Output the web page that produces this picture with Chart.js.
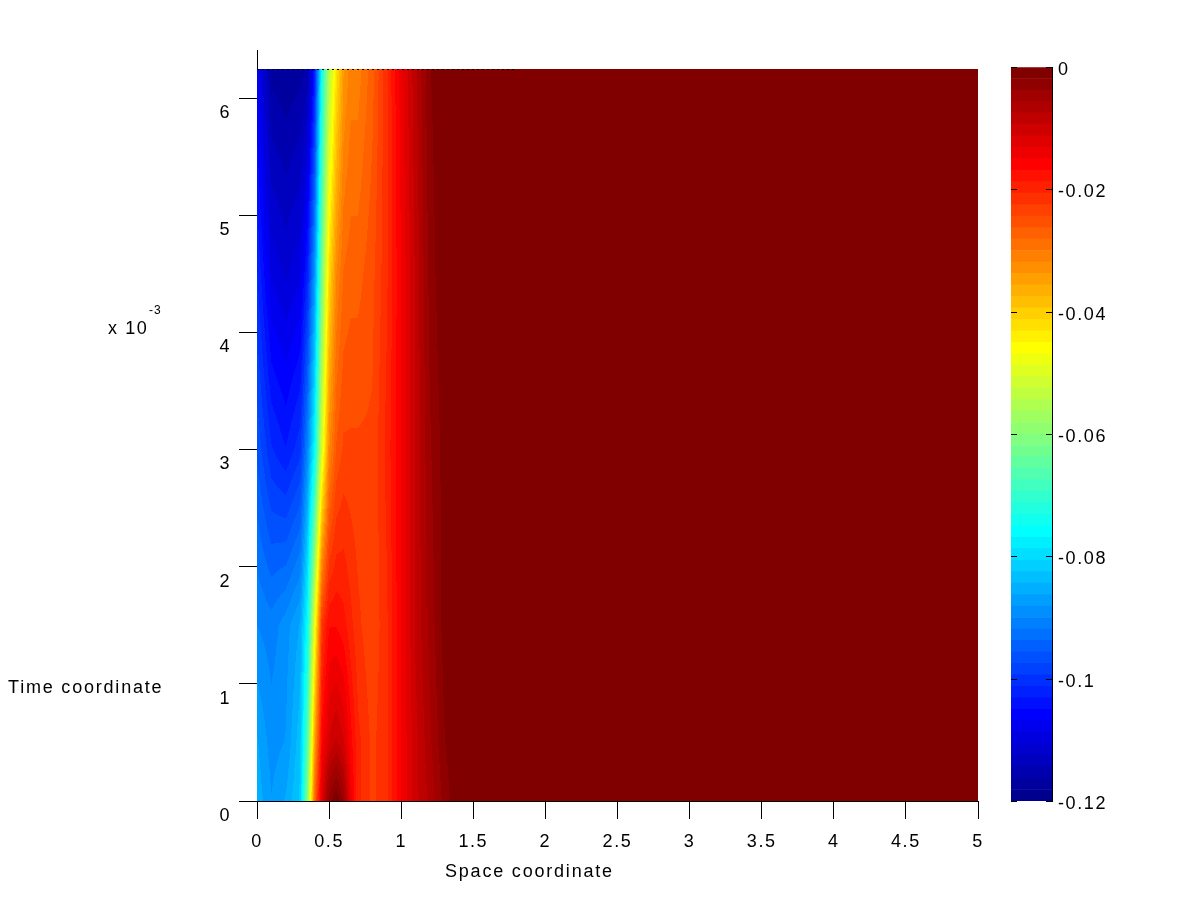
<!DOCTYPE html>
<html>
<head>
<meta charset="utf-8">
<script src="https://cdn.jsdelivr.net/npm/chart.js@4.4.1/dist/chart.umd.min.js"></script>
<style>
    html, body { margin: 0; padding: 0; background: #fff; }
    #contenedor { position: relative; width: 1200px; height: 901px; }
    #contenedor canvas { position: absolute; left: 0; top: 0; }
</style>
</head>
<body>
<div id="contenedor">
    <canvas id="mapa" width="1200" height="901"></canvas>
    <canvas id="barra" width="1200" height="901"></canvas>
</div>
<script>
// coordenadas de la malla (espacio y tiempo)
const espacio = [0, 0.1, 0.2, 0.3, 0.35, 0.4, 0.45, 0.5, 0.55, 0.6, 0.65, 0.7, 0.8, 0.9, 1.0, 1.1, 1.2, 1.3, 1.4, 5];
const tiempo = [0, 0.0005, 0.0015, 0.003, 0.0045, 0.00625];

// valores leidos por fila de tiempo
const filaT0    = [-0.085, -0.088, -0.086, -0.082, -0.060, -0.028, -0.012, -0.003, 0, -0.004, -0.014, -0.020, -0.023, -0.021, -0.015, -0.010, -0.007, -0.003, 0, 0];
const filaT05   = [-0.086, -0.089, -0.088, -0.083, -0.066, -0.035, -0.016, -0.011, -0.009, -0.011, -0.016, -0.020, -0.023, -0.021, -0.015, -0.010, -0.006, -0.002, 0, 0];
const filaT15   = [-0.090, -0.091, -0.089, -0.086, -0.075, -0.048, -0.022, -0.017, -0.017, -0.018, -0.020, -0.022, -0.024, -0.021, -0.015, -0.009, -0.005, -0.001, 0, 0];
const filaT3    = [-0.096, -0.101, -0.103, -0.100, -0.090, -0.076, -0.050, -0.032, -0.026, -0.024, -0.024, -0.024, -0.024, -0.020, -0.015, -0.009, -0.004, -0.001, 0, 0];
const filaT45   = [-0.101, -0.109, -0.111, -0.109, -0.102, -0.088, -0.062, -0.042, -0.032, -0.028, -0.027, -0.027, -0.025, -0.021, -0.015, -0.009, -0.003, 0, 0, 0];
const filaT625  = [-0.107, -0.117, -0.118, -0.117, -0.116, -0.103, -0.074, -0.055, -0.043, -0.034, -0.031, -0.031, -0.027, -0.021, -0.014, -0.008, -0.002, 0, 0, 0];
const filas = [filaT0, filaT05, filaT15, filaT3, filaT45, filaT625];

const xTicks = [0, 0.5, 1, 1.5, 2, 2.5, 3, 3.5, 4, 4.5, 5];
const yTicks = [0, 0.001, 0.002, 0.003, 0.004, 0.005, 0.006];
const cbTicks = [-0.12, -0.1, -0.08, -0.06, -0.04, -0.02, 0];
const cbEtiquetas = ['-0.12', '-0.1', '-0.08', '-0.06', '-0.04', '-0.02', '0'];
const cbMin = -0.12, cbMax = 0, niveles = 64;

const familia = '"Liberation Sans", Arial, sans-serif';
const fuente = { family: familia, size: 18 };
const espaciado = '1.6px';

function jet(k) {
    const u = j => j < 16 ? (j + 1) / 16 : (j <= 30 ? 1 : (47 - j) / 16);
    const n = k + 1;
    const r = n >= 25 ? u(n - 25) : 0;
    const g = (n >= 9 && n <= 55) ? u(n - 9) : 0;
    const b = n <= 39 ? u(n + 7) : 0;
    return [r, g, b].map(c => Math.round(c * 255));
}

function nivel(v) {
    let k = Math.floor((v - cbMin) / (cbMax - cbMin) * niveles);
    return Math.max(0, Math.min(niveles - 1, k));
}

function buscar(arr, v) {
    if (v <= arr[0]) return [0, 0];
    for (let i = 0; i < arr.length - 1; i++) {
        if (v <= arr[i + 1]) return [i, (v - arr[i]) / (arr[i + 1] - arr[i])];
    }
    return [arr.length - 2, 1];
}

const letras = {
    id: 'letras',
    beforeUpdate(chart) { chart.ctx.letterSpacing = espaciado; },
    beforeDraw(chart) { chart.ctx.letterSpacing = espaciado; }
};

const campo = {
    id: 'campo',
    beforeDatasetsDraw(chart) {
        const { ctx, scales: { x, y } } = chart;
        const r = chart.currentDevicePixelRatio || 1;
        const x0 = Math.round(x.getPixelForValue(espacio[0]));
        const x1 = Math.round(x.getPixelForValue(espacio[espacio.length - 1]));
        const y0 = Math.round(y.getPixelForValue(tiempo[tiempo.length - 1]));
        const y1 = Math.round(y.getPixelForValue(tiempo[0]));
        const w = Math.round((x1 - x0) * r), h = Math.round((y1 - y0) * r);
        const img = ctx.createImageData(w, h);
        const cols = [];
        for (let i = 0; i < w; i++) cols.push(buscar(espacio, x.getValueForPixel(x0 + (i + 0.5) / r)));
        for (let j = 0; j < h; j++) {
            const [ti, tf] = buscar(tiempo, y.getValueForPixel(y0 + (j + 0.5) / r));
            const fa = filas[ti], fb = filas[ti + 1];
            for (let i = 0; i < w; i++) {
                const [si, sf] = cols[i];
                const va = fa[si] * (1 - sf) + fa[si + 1] * sf;
                const vb = fb[si] * (1 - sf) + fb[si + 1] * sf;
                const c = jet(nivel(va * (1 - tf) + vb * tf));
                const p = (j * w + i) * 4;
                img.data[p] = c[0]; img.data[p + 1] = c[1]; img.data[p + 2] = c[2]; img.data[p + 3] = 255;
            }
        }
        ctx.putImageData(img, x0 * r, y0 * r);

        // borde punteado superior
        ctx.save();
        ctx.strokeStyle = '#000';
        ctx.lineWidth = 1;
        ctx.setLineDash([2, 3]);
        ctx.beginPath();
        ctx.moveTo(x0, y0 + 0.5);
        ctx.lineTo(x.getPixelForValue(1.8), y0 + 0.5);
        ctx.stroke();
        ctx.restore();
    }
};

const titulos = {
    id: 'titulos',
    afterDraw(chart) {
        const ctx = chart.ctx;
        ctx.save();
        ctx.fillStyle = '#000';
        ctx.textAlign = 'left';
        ctx.textBaseline = 'alphabetic';
        ctx.letterSpacing = '1.8px';
        ctx.font = '18px ' + familia;
        ctx.fillText('Time coordinate', 8, 693);
        ctx.fillText('Space coordinate', 445, 877);
        ctx.letterSpacing = espaciado;
        ctx.fillText('x 10', 108, 334);
        ctx.letterSpacing = '1px';
        ctx.font = '12px ' + familia;
        ctx.fillText('-3', 149, 314);
        ctx.restore();
    }
};

const marcasBarra = {
    id: 'marcasBarra',
    afterDatasetsDraw(chart) {
        const { ctx, chartArea: a, scales: { y } } = chart;
        ctx.save();
        ctx.strokeStyle = '#000';
        ctx.lineWidth = 1;
        ctx.beginPath();
        cbTicks.forEach(v => {
            const py = Math.round(y.getPixelForValue(v)) + 0.5;
            ctx.moveTo(a.left, py); ctx.lineTo(a.left + 6, py);
            ctx.moveTo(a.right - 6, py); ctx.lineTo(a.right, py);
        });
        ctx.stroke();
        ctx.restore();
    }
};

function sinRelleno(s) {
    s.paddingTop = 0; s.paddingBottom = 0; s.paddingLeft = 0; s.paddingRight = 0;
}

new Chart(document.getElementById('mapa'), {
    type: 'scatter',
    data: { datasets: [] },
    options: {
        responsive: false,
        animation: false,
        events: [],
        layout: { padding: { top: 50, right: 222, bottom: 0, left: 0 } },
        plugins: { legend: { display: false }, tooltip: { enabled: false } },
        scales: {
            x: {
                type: 'linear', min: 0, max: 5, position: 'bottom', z: 1,
                afterBuildTicks: s => { s.ticks = xTicks.map(v => ({ value: v })); },
                afterFit: s => { s.height = 100; sinRelleno(s); },
                ticks: { color: '#000', font: fuente, padding: 12, maxRotation: 0, autoSkip: false,
                    callback: v => String(v) },
                grid: { drawOnChartArea: false, drawTicks: true, tickLength: 18, tickColor: '#000', tickWidth: 1 },
                border: { display: true, color: '#000', width: 1 }
            },
            y: {
                type: 'linear', min: 0, max: 0.00641, position: 'left', z: 1,
                afterBuildTicks: s => { s.ticks = yTicks.map(v => ({ value: v })); },
                afterFit: s => { s.width = 257; sinRelleno(s); },
                ticks: { color: '#000', font: fuente, padding: 8, labelOffset: 15, autoSkip: false,
                    callback: v => String(Math.round(v * 1000)) },
                grid: { drawOnChartArea: false, drawTicks: true, tickLength: 18, tickColor: '#000', tickWidth: 1 },
                border: { display: true, color: '#000', width: 1 }
            }
        }
    },
    plugins: [letras, campo, titulos]
});

const paso = (cbMax - cbMin) / niveles;
const bandas = [];
for (let k = 0; k < niveles; k++) {
    const c = jet(k);
    bandas.push({
        data: [[cbMin + k * paso, cbMin + (k + 1) * paso]],
        backgroundColor: 'rgb(' + c.join(',') + ')',
        borderWidth: 0,
        barPercentage: 1,
        categoryPercentage: 1,
        grouped: false
    });
}

new Chart(document.getElementById('barra'), {
    type: 'bar',
    data: { labels: ['c'], datasets: bandas },
    options: {
        responsive: false,
        animation: false,
        events: [],
        layout: { padding: { top: 67, right: 0, bottom: 100, left: 1011 } },
        plugins: { legend: { display: false }, tooltip: { enabled: false } },
        scales: {
            x: { display: false },
            y: {
                type: 'linear', min: cbMin, max: cbMax, position: 'right', z: 1,
                afterBuildTicks: s => { s.ticks = cbTicks.map(v => ({ value: v })); },
                afterFit: s => { s.width = 148; sinRelleno(s); },
                ticks: { color: '#000', font: fuente, padding: 6, labelOffset: 3, autoSkip: false,
                    callback: (v, i) => cbEtiquetas[i] },
                grid: { drawOnChartArea: false, drawTicks: false },
                border: { display: true, color: '#000', width: 1 }
            }
        }
    },
    plugins: [letras, marcasBarra]
});
</script>
</body>
</html>
